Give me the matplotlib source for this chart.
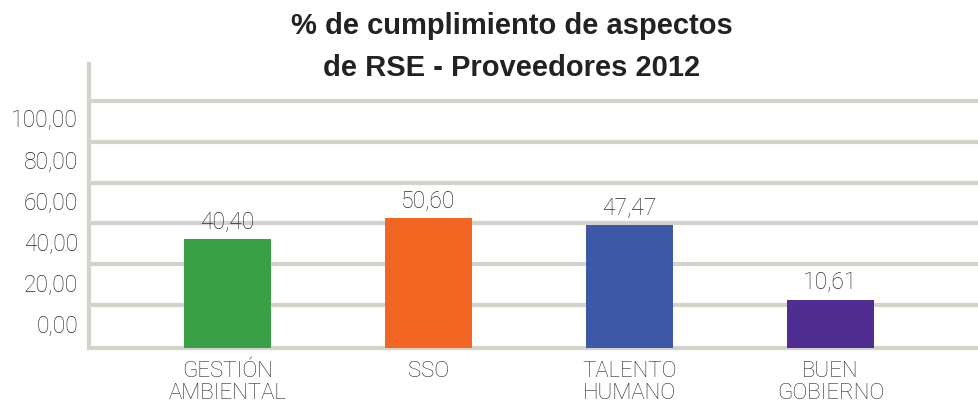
import matplotlib.pyplot as plt
from matplotlib.ticker import FixedLocator

# datos
categorias = ["GESTIÓN\nAMBIENTAL", "SSO", "TALENTO\nHUMANO", "BUEN\nGOBIERNO"]
valores = [40.40, 50.60, 47.47, 10.61]
etiquetas_valor = ["40,40", "50,60", "47,47", "10,61"]
colores = ["#3aa047", "#f26522", "#3c58a6", "#502d90"]
ticks_y = [0, 20, 40, 60, 80, 100]
etiquetas_y = ["0,00", "20,00", "40,00", "60,00", "80,00", "100,00"]

gris = "#d3d3cc"
texto = "#2a2a2a"
plt.rcParams["font.family"] = ["Roboto", "DejaVu Sans"]
plt.rcParams["font.weight"] = "light"

fig = plt.figure(figsize=(9.79, 4.10), dpi=100)
ax = fig.add_axes([0.0909, 0.1488, 0.9091, 0.6927])

x = list(range(len(valores)))
piso = -12.8
ax.bar(x, [v - piso for v in valores], bottom=piso, width=0.433, color=colores, zorder=3)

for xi, v, t in zip(x, valores, etiquetas_valor):
    ax.annotate(t, (xi, v), xytext=(0, 5), textcoords="offset points",
                ha="center", va="bottom", fontsize=16.5, color=texto)

ax.set_xlim(-0.69, 3.74)
ax.set_ylim(piso, 125.9)

# lineas de cuadricula (desplazadas como en el grafico 3D original)
ax.yaxis.set_minor_locator(FixedLocator([t + 8 for t in ticks_y]))
ax.grid(axis="y", which="minor", color=gris, linewidth=3, zorder=0)
ax.set_yticks(ticks_y)
ax.set_yticklabels(etiquetas_y, fontsize=16.5, color=texto)
ax.tick_params(axis="y", which="both", length=0, pad=8)

ax.set_xticks(x)
ax.set_xticklabels(categorias, fontsize=16, color=texto, linespacing=1.05)
ax.tick_params(axis="x", length=0, pad=9)

for s in ["top", "right"]:
    ax.spines[s].set_visible(False)
for s in ["left", "bottom"]:
    ax.spines[s].set_color(gris)
    ax.spines[s].set_linewidth(3)

titulo = ["% de cumplimiento de aspectos", "de RSE - Proveedores 2012"]
for t, y in zip(titulo, [0.937, 0.835]):
    fig.text(0.523, y, t, ha="center", va="center", fontsize=21, fontweight="bold",
             color="#222222", family=["Liberation Sans", "DejaVu Sans"])

fig.savefig("out.png", dpi=100)
